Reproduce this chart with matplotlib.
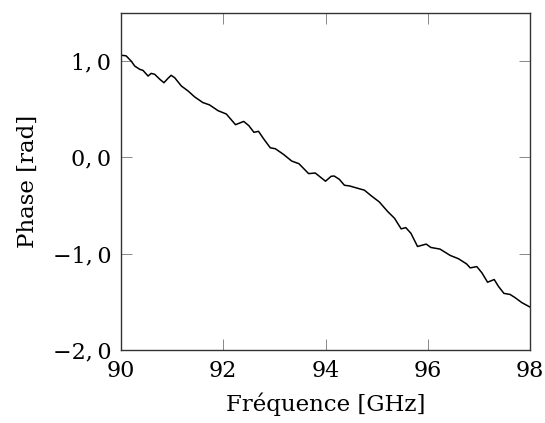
import matplotlib
matplotlib.use("Agg")
import matplotlib.pyplot as plt
from matplotlib.ticker import FuncFormatter

freq = [90.00, 90.10, 90.20, 90.27, 90.37, 90.43, 90.53, 90.59, 90.66, 90.76,
        90.84, 90.92, 90.98, 91.05, 91.18, 91.31, 91.44, 91.60, 91.73, 91.90,
        92.06, 92.24, 92.40, 92.50, 92.60, 92.69, 92.79, 92.92, 93.02, 93.18,
        93.34, 93.48, 93.67, 93.80, 94.00, 94.11, 94.17, 94.27, 94.37, 94.47,
        94.60, 94.76, 94.92, 95.05, 95.22, 95.35, 95.48, 95.57, 95.67, 95.80,
        95.97, 96.06, 96.24, 96.44, 96.60, 96.76, 96.83, 96.96, 97.06, 97.17,
        97.30, 97.38, 97.49, 97.61, 97.71, 97.84, 98.00]
phase = [1.062, 1.055, 1.000, 0.948, 0.914, 0.904, 0.845, 0.873, 0.863, 0.811,
         0.776, 0.822, 0.853, 0.828, 0.742, 0.691, 0.629, 0.570, 0.546, 0.485,
         0.451, 0.340, 0.374, 0.330, 0.261, 0.271, 0.193, 0.100, 0.090, 0.031,
         -0.038, -0.065, -0.168, -0.162, -0.247, -0.196, -0.193, -0.227, -0.289, -0.296,
         -0.316, -0.340, -0.409, -0.461, -0.564, -0.632, -0.742, -0.729, -0.787, -0.925,
         -0.900, -0.935, -0.952, -1.018, -1.052, -1.106, -1.147, -1.134, -1.199, -1.296,
         -1.268, -1.337, -1.412, -1.423, -1.457, -1.508, -1.554]

xticks = [90, 92, 94, 96, 98]
yticks = [-2, -1, 0, 1]

plt.rcParams['font.family'] = ['DejaVu Serif']
plt.rcParams['axes.unicode_minus'] = True

fig = plt.figure(figsize=(5.45, 4.23), dpi=100)
ax = fig.add_axes([121/545, 1 - 350/423, (530-121)/545, (350-13)/423])
ax.plot(freq, phase, color='black', lw=1.1)
ax.set_xlim(90, 98)
ax.set_ylim(-2, 1.5)
ax.set_xticks(xticks)
ax.set_yticks(yticks)
ax.yaxis.set_major_formatter(FuncFormatter(
    lambda v, p: ("\u2212" if v < 0 else "") + f"{abs(v):.1f}".replace('.', ',\u2009')))
ax.tick_params(direction='in', length=8, width=0.7, color='#888888',
               top=True, right=True, labelsize=16)
ax.tick_params(axis='x', pad=7)
ax.tick_params(axis='y', pad=7)
for s in ax.spines.values():
    s.set_linewidth(1.0)
    s.set_color('#333333')
ax.set_xlabel('Fréquence [GHz]', fontsize=16.5, labelpad=8)
ax.set_ylabel('Phase [rad]', fontsize=16.5, labelpad=10)
fig.savefig('out.png', dpi=100)
